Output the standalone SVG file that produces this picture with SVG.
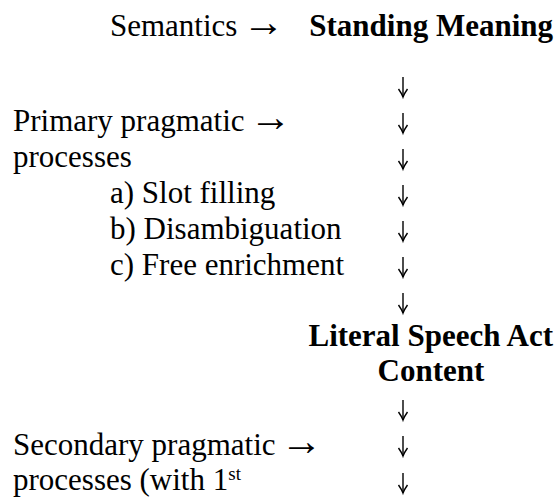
<svg xmlns="http://www.w3.org/2000/svg" width="557" height="497" viewBox="0 0 557 497">
<style>
text{font-family:"Liberation Serif","Times New Roman",serif;font-size:31px;fill:#000}
.b{font-weight:bold}
.m{text-anchor:middle}
.e{text-anchor:end}
.ar{font-size:42px}
.sup{font-size:19px}
.dn{stroke:#000;stroke-width:1.4;fill:none;marker-end:url(#head)}
</style>
<defs>
<marker id="head" viewBox="-9 -6 10 12" refX="0" refY="0" markerWidth="10" markerHeight="12" markerUnits="userSpaceOnUse" orient="auto" overflow="visible">
<path d="M-8,-4.5 Q-3,-1 0,0 Q-3,1 -8,4.5" fill="none" stroke="#000" stroke-width="1.4"/>
</marker>
</defs>
<rect width="557" height="497" fill="#fff"/>
<g id="semantics"><text x="110" y="36">Semantics <tspan class="ar" dx="-3">→</tspan></text></g>
<g id="standing-meaning"><text class="b e" x="553" y="36">Standing Meaning</text></g>
<g id="primary"><text x="13" y="131">Primary pragmatic <tspan class="ar" dx="-3">→</tspan></text><text x="13" y="167">processes</text><text x="110" y="203">a) Slot filling</text><text x="110" y="239">b) Disambiguation</text><text x="110" y="275">c) Free enrichment</text></g>
<g id="literal"><text class="b e" x="553" y="346">Literal Speech Act</text><text class="b m" x="431" y="381">Content</text></g>
<g id="secondary"><text x="13" y="455">Secondary pragmatic <tspan class="ar" dx="-3">→</tspan></text><text x="13" y="490">processes (with 1<tspan class="sup" dy="-10">st</tspan></text></g>
<g id="connectors">
<path class="dn" d="M403,77V97"/>
<path class="dn" d="M403,113V133"/>
<path class="dn" d="M403,149V169"/>
<path class="dn" d="M403,185V205"/>
<path class="dn" d="M403,221V241"/>
<path class="dn" d="M403,257V277"/>
<path class="dn" d="M403,293V313"/>
<path class="dn" d="M403,400V420"/>
<path class="dn" d="M403,436V456"/>
<path class="dn" d="M403,473V493"/>
</g>
</svg>
